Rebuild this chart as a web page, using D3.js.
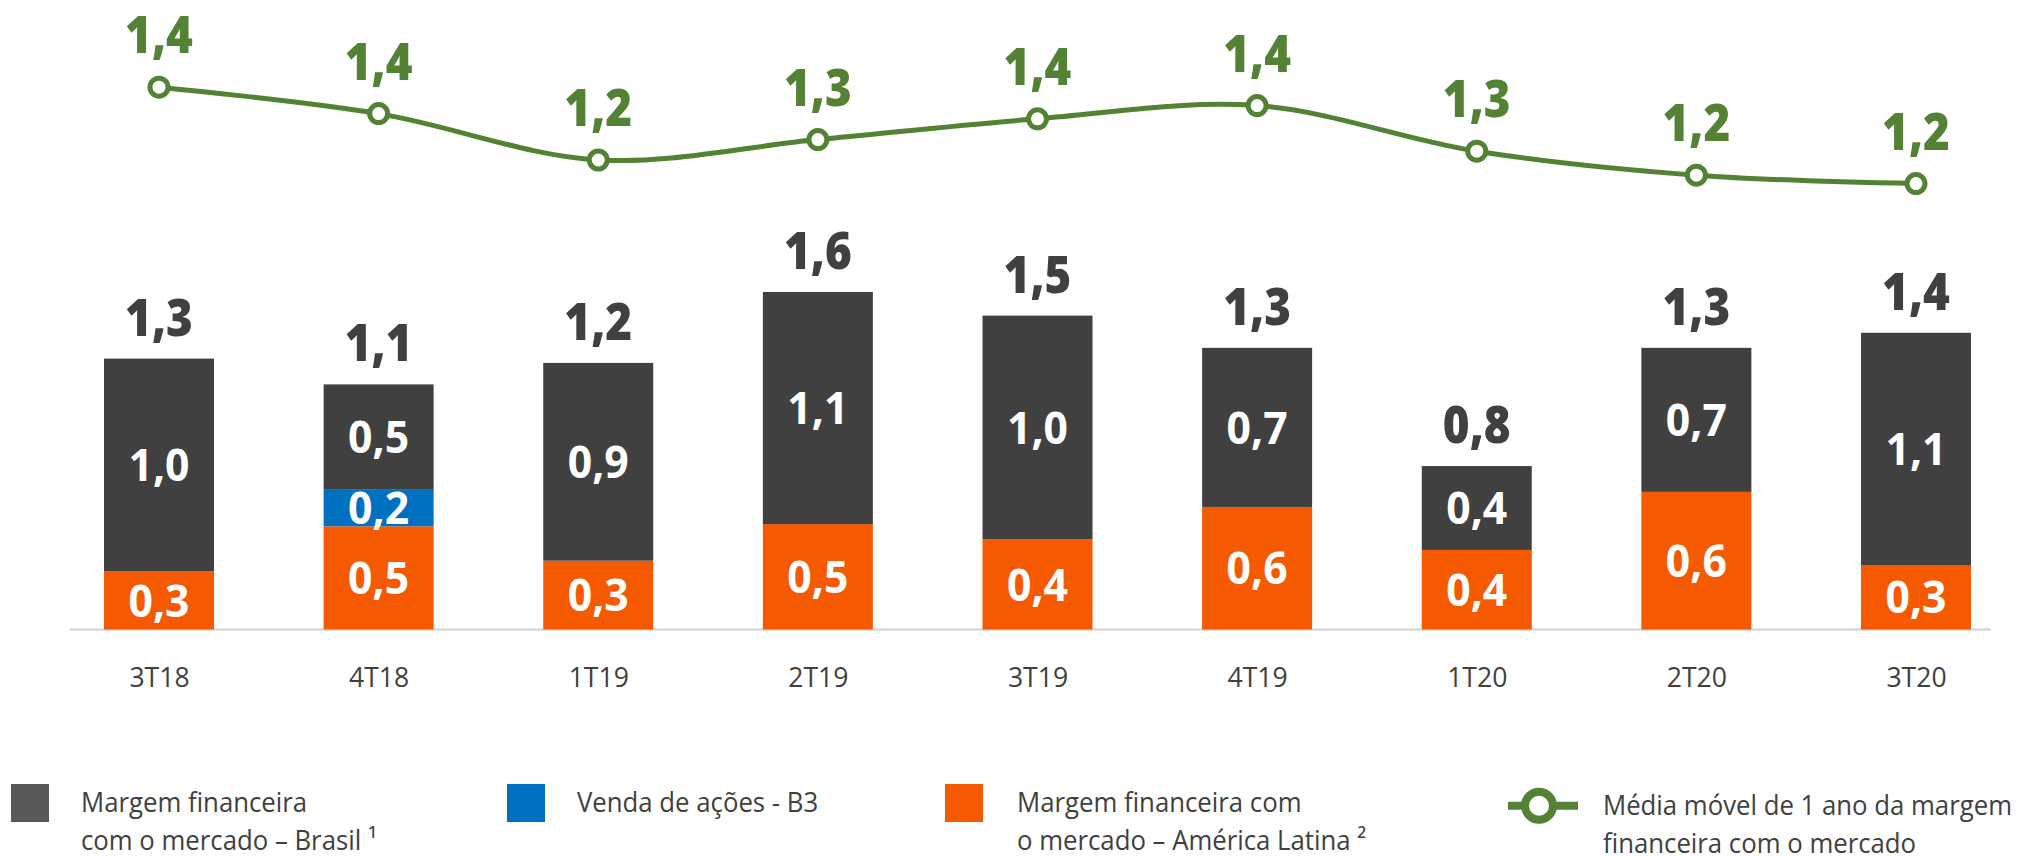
<!DOCTYPE html>
<html>
<head>
<meta charset="utf-8">
<title>Margem financeira com o mercado</title>
<script src="https://d3js.org/d3.v7.min.js"></script>
<style>
  body { margin: 0; background: #fff; }
  svg text { font-family: "Open Sans", "Noto Sans", sans-serif; }
</style>
</head>
<body>
<script>
// data (R$ bilhões)
var categories = ["3T18", "4T18", "1T19", "2T19", "3T19", "4T19", "1T20", "2T20", "3T20"];
var brasil = [0.99, 0.49, 0.92, 1.08, 1.04, 0.74, 0.39, 0.67, 1.08];
var acoesB3 = [0, 0.17, 0, 0, 0, 0, 0, 0, 0];
var latam = [0.27, 0.48, 0.32, 0.49, 0.42, 0.57, 0.37, 0.64, 0.30];
var mediaMovel = [1.431, 1.365, 1.249, 1.300, 1.352, 1.385, 1.271, 1.211, 1.190];

var legendItems = [
  {key: "brasil", lines: ["Margem financeira", "com o mercado \u2013 Brasil \u00b9"]},
  {key: "b3", lines: ["Venda de ações - B3"]},
  {key: "latam", lines: ["Margem financeira com", "o mercado \u2013 América Latina \u00b2"]},
  {key: "media", lines: ["Média móvel de 1 ano da margem", "financeira com o mercado"]}
];

var colors = {brasil: "#404040", b3: "#0070c0", latam: "#f55a00", media: "#548235"};

var width = 2044, height = 856;
var baseY = 629.5;
var barWidth = 110;
var narrow = 0.88;   // the original face is condensed

var fmt = function(v) { return d3.format(".1f")(v).replace(".", ","); };

var svg = d3.select("body").append("svg")
  .attr("width", width)
  .attr("height", height);

var x = d3.scalePoint()
  .domain(categories)
  .range([159, 1916]);

var y = d3.scaleLinear()
  .domain([0, 1.6])
  .range([baseY, baseY - 344]);

var yLine = d3.scaleLinear()
  .domain([1.0, 1.5])
  .range([259.6, 59.6]);

// build rows for stacking
var rows = categories.map(function(c, i) {
  return {cat: c, latam: latam[i], b3: acoesB3[i], brasil: brasil[i]};
});
var keys = ["latam", "b3", "brasil"];
var series = d3.stack().keys(keys)(rows);

function place(px, py, sx) {
  return "translate(" + px + "," + py + ") scale(" + sx + ",1)";
}

// baseline
svg.append("line")
  .attr("x1", 70).attr("x2", 1991)
  .attr("y1", baseY).attr("y2", baseY)
  .attr("stroke", "#d0d0d0")
  .attr("stroke-width", 2);

// bars
var layer = svg.selectAll("g.layer")
  .data(series)
  .enter().append("g")
  .attr("class", "layer")
  .attr("fill", function(d) { return colors[d.key]; });

layer.selectAll("rect")
  .data(function(d) { return d; })
  .enter().append("rect")
  .attr("x", function(d) { return x(d.data.cat) - barWidth / 2; })
  .attr("width", barWidth)
  .attr("y", function(d) { return y(d[1]); })
  .attr("height", function(d) { return y(d[0]) - y(d[1]); });

// labels inside segments
series.forEach(function(s) {
  svg.append("g").selectAll("text")
    .data(s.filter(function(d) { return d[1] - d[0] > 0; }))
    .enter().append("text")
    .attr("transform", function(d) {
      return place(x(d.data.cat), y((d[0] + d[1]) / 2), 0.95);
    })
    .attr("dy", "0.36em")
    .attr("text-anchor", "middle")
    .attr("fill", "#fff")
    .attr("font-size", 45)
    .attr("font-weight", 700)
    .text(function(d) { return fmt(d[1] - d[0]); });
});

// totals
svg.append("g").selectAll("text")
  .data(rows)
  .enter().append("text")
  .attr("transform", function(d) {
    return place(x(d.cat), y(d.latam + d.b3 + d.brasil) - 23, narrow);
  })
  .attr("text-anchor", "middle")
  .attr("fill", "#404040")
  .attr("font-size", 52)
  .attr("font-weight", 800)
  .text(function(d) { return fmt(d.latam + d.b3 + d.brasil); });

// x axis labels
var xAxis = d3.axisBottom(x).tickSize(0).tickPadding(0);
var gx = svg.append("g")
  .attr("transform", "translate(0," + (baseY + 57) + ")")
  .call(xAxis);
gx.select(".domain").remove();
gx.selectAll("text")
  .attr("dy", 0)
  .attr("y", 0)
  .attr("fill", "#404040")
  .attr("font-size", 28)
  .attr("transform", "scale(0.95,1)")
  .style("font-family", "'Open Sans', sans-serif");

// moving average line
var line = d3.line()
  .x(function(d, i) { return x(categories[i]); })
  .y(function(d) { return yLine(d); })
  .curve(d3.curveCatmullRom.alpha(0.5));

svg.append("path")
  .datum(mediaMovel)
  .attr("fill", "none")
  .attr("stroke", colors.media)
  .attr("stroke-width", 5)
  .attr("d", line);

svg.append("g").selectAll("circle")
  .data(mediaMovel)
  .enter().append("circle")
  .attr("cx", function(d, i) { return x(categories[i]); })
  .attr("cy", function(d) { return yLine(d); })
  .attr("r", 9)
  .attr("fill", "#fff")
  .attr("stroke", colors.media)
  .attr("stroke-width", 5);

svg.append("g").selectAll("text")
  .data(mediaMovel)
  .enter().append("text")
  .attr("transform", function(d, i) {
    return place(x(categories[i]), yLine(d) - 34, narrow);
  })
  .attr("text-anchor", "middle")
  .attr("fill", colors.media)
  .attr("font-size", 52)
  .attr("font-weight", 800)
  .text(function(d) { return fmt(d); });

// legend
var legendX = [11, 507, 945, 1508];
var legend = svg.append("g").selectAll("g")
  .data(legendItems)
  .enter().append("g")
  .attr("transform", function(d, i) { return "translate(" + legendX[i] + ",0)"; });

legend.each(function(d) {
  var g = d3.select(this);
  var tx;
  if (d.key === "media") {
    g.append("line")
      .attr("x1", 0).attr("x2", 70)
      .attr("y1", 805.7).attr("y2", 805.7)
      .attr("stroke", colors.media)
      .attr("stroke-width", 8);
    g.append("circle")
      .attr("cx", 31).attr("cy", 805.7)
      .attr("r", 14)
      .attr("fill", "#fff")
      .attr("stroke", colors.media)
      .attr("stroke-width", 8);
    tx = 95;
  } else {
    g.append("rect")
      .attr("x", 0).attr("y", 784)
      .attr("width", 38).attr("height", 38)
      .attr("fill", d.key === "brasil" ? "#595959" : colors[d.key]);
    tx = d.key === "latam" ? 72 : 70;
  }
  g.selectAll("text")
    .data(d.lines)
    .enter().append("text")
    .attr("transform", function(t, j) {
      return place(tx, (d.key === "media" ? 815 : 812) + j * 38, 0.92);
    })
    .attr("fill", "#404040")
    .attr("font-size", 28)
    .text(function(t) { return t; });
});
</script>
</body>
</html>
